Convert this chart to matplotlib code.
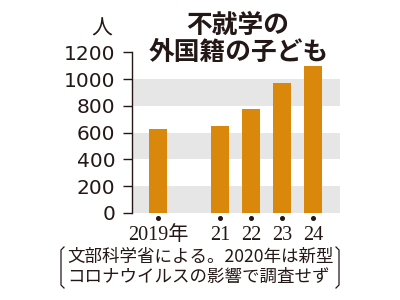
import matplotlib
matplotlib.use("Agg")
import matplotlib.pyplot as plt
from matplotlib.lines import Line2D
import matplotlib.transforms as mtransforms

years = [2019, 2021, 2022, 2023, 2024]
values = [630, 649, 778, 970, 1097]
xlabels = ["2019年", "21", "22", "23", "24"]
yticks = [0, 200, 400, 600, 800, 1000, 1200]
bands = [(0, 200), (400, 600), (800, 1000)]
title_lines = ["不就学の", "外国籍の子ども"]
unit = "人"
note_lines = ["文部科学省による。2020年は新型", "コロナウイルスの影響で調査せず"]

INK = "#231815"
BAR = "#D9880B"
BAND = "#E6E6E6"
CJK = "Noto Sans CJK JP"

W, H = 400, 300
fig = plt.figure(figsize=(4, 3), dpi=100)
ax = fig.add_axes([132 / W, 1 - 213 / H, (340 - 132) / W, (213 - 52.3) / H])

for lo, hi in bands:
    ax.axhspan(lo, hi, color=BAND, lw=0, zorder=0)

ax.bar(years, values, width=0.58, color=BAR, zorder=2)

ax.set_xlim(2018.16, 2024.87)
ax.set_ylim(0, 1200)

for s in ["top", "right", "bottom"]:
    ax.spines[s].set_visible(False)
ax.spines["left"].set_color(INK)
ax.spines["left"].set_linewidth(1.0)

ax.set_yticks(yticks)
ax.set_yticklabels([str(v) for v in yticks], fontsize=14.5, family="DejaVu Sans", color=INK)
ax.tick_params(axis="y", length=6.5, width=1.0, color=INK, pad=5.5, direction="out")

ax.set_xticks(years)
ax.set_xticklabels(xlabels, fontsize=14.5, family=["Liberation Serif", CJK], color=INK)
ax.tick_params(axis="x", length=0, pad=9)

# small dots under each bar
trans = mtransforms.blended_transform_factory(ax.transData, ax.transAxes)
ax.plot(years, [-0.032] * len(years), ls="none", marker="o", ms=2.6,
        color=INK, transform=trans, clip_on=False)

# unit label
fig.text(102 / W, 1 - 29 / H, unit, fontsize=15, family=CJK, color=INK,
         ha="center", va="center")

# title
fig.text(238 / W, 1 - 25 / H, title_lines[0], fontsize=18.5, family=CJK,
         weight="bold", color=INK, ha="center", va="center")
fig.text(239 / W, 1 - 52 / H, title_lines[1], fontsize=18.5, family=CJK,
         weight="bold", color=INK, ha="center", va="center")

# footnote
fig.text(67 / W, 1 - 257 / H, note_lines[0], fontsize=12.6, family=CJK,
         color=INK, ha="left", va="center")
fig.text(67 / W, 1 - 277 / H, note_lines[1], fontsize=12.6, family=CJK,
         color=INK, ha="left", va="center")

def px(x, y):
    return x / W, 1 - y / H

lb = [px(64, 247), px(61, 250), px(61, 285), px(64, 288)]
rb = [px(336, 247), px(339, 250), px(339, 285), px(336, 288)]
for pts in (lb, rb):
    xs, ys = zip(*pts)
    fig.add_artist(Line2D(xs, ys, transform=fig.transFigure, color=INK, lw=0.9))

fig.savefig("out.png", dpi=100, facecolor="white")
